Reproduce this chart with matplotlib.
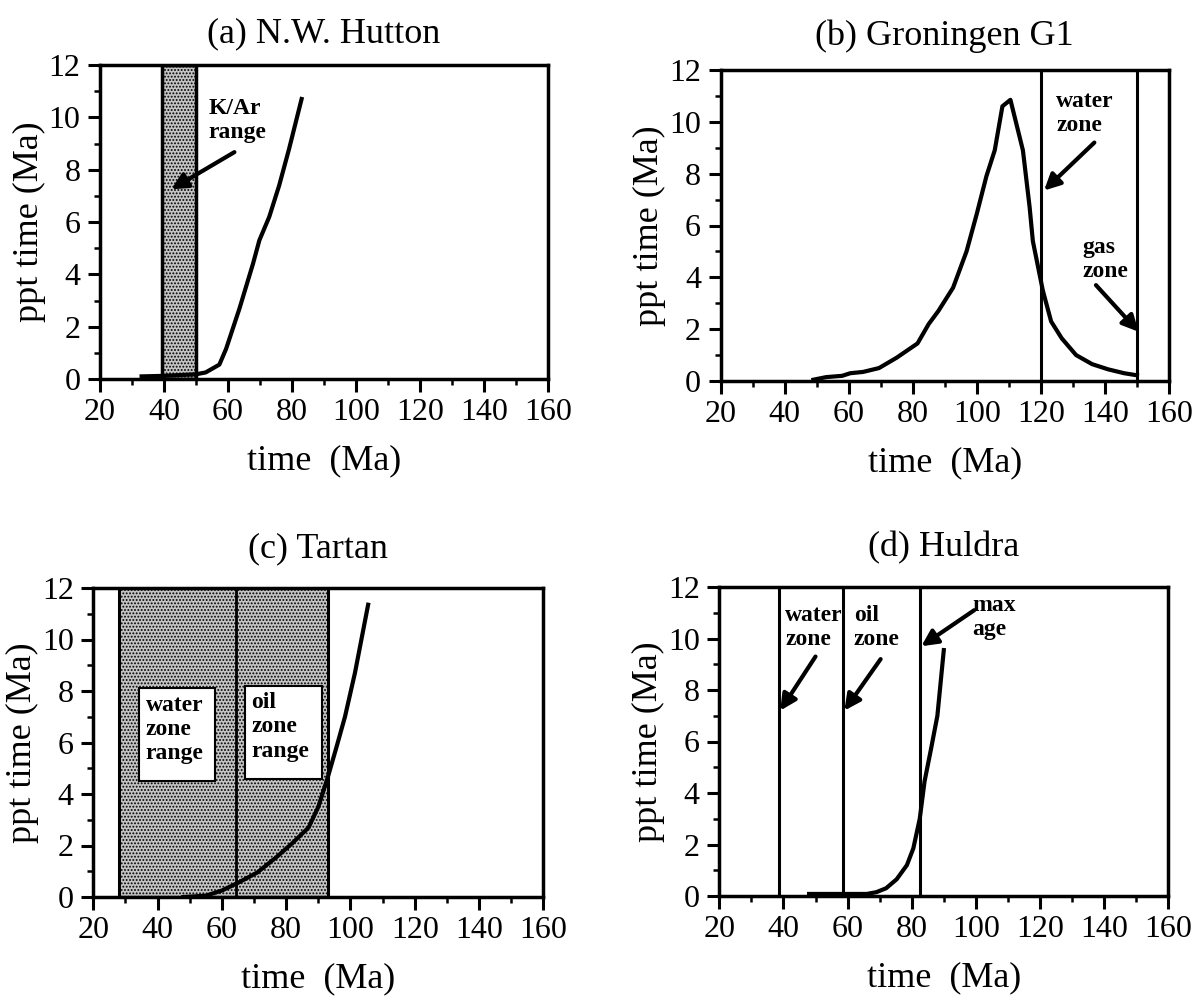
import matplotlib
matplotlib.use("Agg")
import matplotlib.pyplot as plt
from matplotlib.patches import Rectangle
from matplotlib.ticker import MultipleLocator

plt.rcParams['font.family'] = ['Liberation Serif', 'DejaVu Serif']
plt.rcParams['hatch.linewidth'] = 0.9

# (a) N.W. Hutton
a_x = [33, 40, 50, 53, 57.3, 59.4, 63.6, 67.8, 69.8, 72.9, 76, 79.1, 83]
a_y = [0.1, 0.12, 0.18, 0.25, 0.55, 1.15, 2.7, 4.4, 5.3, 6.2, 7.4, 8.8, 10.7]
a_band = (39.5, 50)

# (b) Groningen G1
b_x = [49, 53, 58, 60.5, 64.5, 69.5, 75, 81.5, 85, 88, 92.6, 96.8, 100, 103,
       105.6, 108, 110.5, 114.4, 116.5, 117.5, 120.6, 123.2, 126.5, 131, 136,
       141, 146, 150]
b_y = [0.05, 0.15, 0.2, 0.3, 0.35, 0.5, 0.9, 1.45, 2.2, 2.7, 3.6, 5.0, 6.45,
       7.9, 8.9, 10.6, 10.85, 8.9, 6.7, 5.4, 3.5, 2.3, 1.65, 1.0, 0.65, 0.45,
       0.3, 0.22]
b_lines = [120, 150]

# (c) Tartan
c_x = [48, 55, 60, 65, 71, 77, 82, 87, 90, 93, 95.7, 98.3, 101.4, 105.5]
c_y = [0.0, 0.05, 0.25, 0.55, 0.95, 1.55, 2.1, 2.7, 3.5, 4.67, 5.84, 7.0, 8.7, 11.35]
c_band = (28, 93)
c_mid = 64.5

# (d) Huldra
d_x = [48, 55, 60, 66, 69, 72, 75.3, 78.5, 80.5, 82.5, 84, 86, 88, 90]
d_y = [0.08, 0.08, 0.08, 0.08, 0.15, 0.3, 0.65, 1.2, 1.85, 3.0, 4.45, 5.7, 7.0, 9.55]
d_lines = [38.5, 58.5, 82.5]

W, H = 1202, 998
fig = plt.figure(figsize=(W / 100, H / 100), dpi=100)


def make_ax(l, t, r, b):
    return fig.add_axes([l / W, 1 - b / H, (r - l) / W, (b - t) / H])


def style(ax, title, tpad):
    ax.set_xlim(20, 160)
    ax.set_ylim(0, 12)
    ax.xaxis.set_major_locator(MultipleLocator(20))
    ax.xaxis.set_minor_locator(MultipleLocator(10))
    ax.yaxis.set_major_locator(MultipleLocator(2))
    ax.yaxis.set_minor_locator(MultipleLocator(1))
    ax.tick_params(which='major', direction='out', length=9, width=2.2, labelsize=23, pad=5)
    ax.tick_params(which='minor', direction='out', length=4, width=1.8)
    for s in ax.spines.values():
        s.set_linewidth(2.5)
    ax.set_xlabel("time  (Ma)", fontsize=26, labelpad=12)
    ax.set_ylabel("ppt time (Ma)", fontsize=26, labelpad=2)
    ax.set_title(title, fontsize=26, pad=tpad)


def note(ax, x, y, s):
    ax.text(x, y, s, fontsize=17, fontweight='bold', ha='left', va='top',
            linespacing=1.2, zorder=6)


def arrow(ax, tail, tip):
    ax.annotate("", xy=tip, xytext=tail,
                arrowprops=dict(arrowstyle='-|>', lw=3, color='black',
                                mutation_scale=24, shrinkA=0, shrinkB=0),
                zorder=6)


ax_a = make_ax(100, 65, 548, 379)
ax_b = make_ax(720.5, 70, 1169, 381)
ax_c = make_ax(93.3, 588, 543.3, 897)
ax_d = make_ax(719.3, 587, 1168.3, 896)

# (a)
ax_a.add_patch(Rectangle((a_band[0], 0), a_band[1] - a_band[0], 12,
                         facecolor='#c4c4c4', edgecolor='black', hatch='.....',
                         linewidth=2.5, zorder=1))
ax_a.plot(a_x, a_y, color='black', lw=3, zorder=4)
note(ax_a, 54, 10.75, "K/Ar\nrange")
arrow(ax_a, (62, 8.67), (42.3, 7.25))
style(ax_a, "(a) N.W. Hutton", 16)

# (b)
for xv in b_lines:
    ax_b.axvline(xv, color='black', lw=2.2, zorder=3)
ax_b.plot(b_x, b_y, color='black', lw=3, zorder=4)
note(ax_b, 124.8, 11.2, "water\nzone")
arrow(ax_b, (136.7, 9.2), (121.0, 7.35))
note(ax_b, 133, 5.55, "gas\nzone")
arrow(ax_b, (137.2, 3.7), (150.5, 1.9))
style(ax_b, "(b) Groningen G1", 18)

# (c)
ax_c.add_patch(Rectangle((c_band[0], 0), c_band[1] - c_band[0], 12,
                         facecolor='#c4c4c4', edgecolor='black', hatch='.....',
                         linewidth=2.2, zorder=1))
ax_c.axvline(c_mid, color='black', lw=2, zorder=3)
ax_c.plot(c_x, c_y, color='black', lw=3, zorder=4)
ax_c.add_patch(Rectangle((34.2, 4.5), 23.8, 3.6, facecolor='white',
                         edgecolor='black', lw=1.5, zorder=5))
ax_c.add_patch(Rectangle((67.1, 4.6), 24.1, 3.6, facecolor='white',
                         edgecolor='black', lw=1.5, zorder=5))
note(ax_c, 36.3, 7.85, "water\nzone\nrange")
note(ax_c, 69.2, 7.95, "oil\nzone\nrange")
style(ax_c, "(c) Tartan", 22)

# (d)
for xv in d_lines:
    ax_d.axvline(xv, color='black', lw=2.2, zorder=3)
ax_d.plot(d_x, d_y, color='black', lw=3, zorder=4)
note(ax_d, 40.5, 11.3, "water\nzone")
arrow(ax_d, (50, 9.3), (39, 7.2))
note(ax_d, 62, 11.3, "oil\nzone")
arrow(ax_d, (70.3, 9.2), (59, 7.2))
note(ax_d, 99, 11.7, "max\nage")
arrow(ax_d, (99.5, 11.1), (83, 9.7))
style(ax_d, "(d) Huldra", 22)

fig.savefig("out.png", dpi=100)
